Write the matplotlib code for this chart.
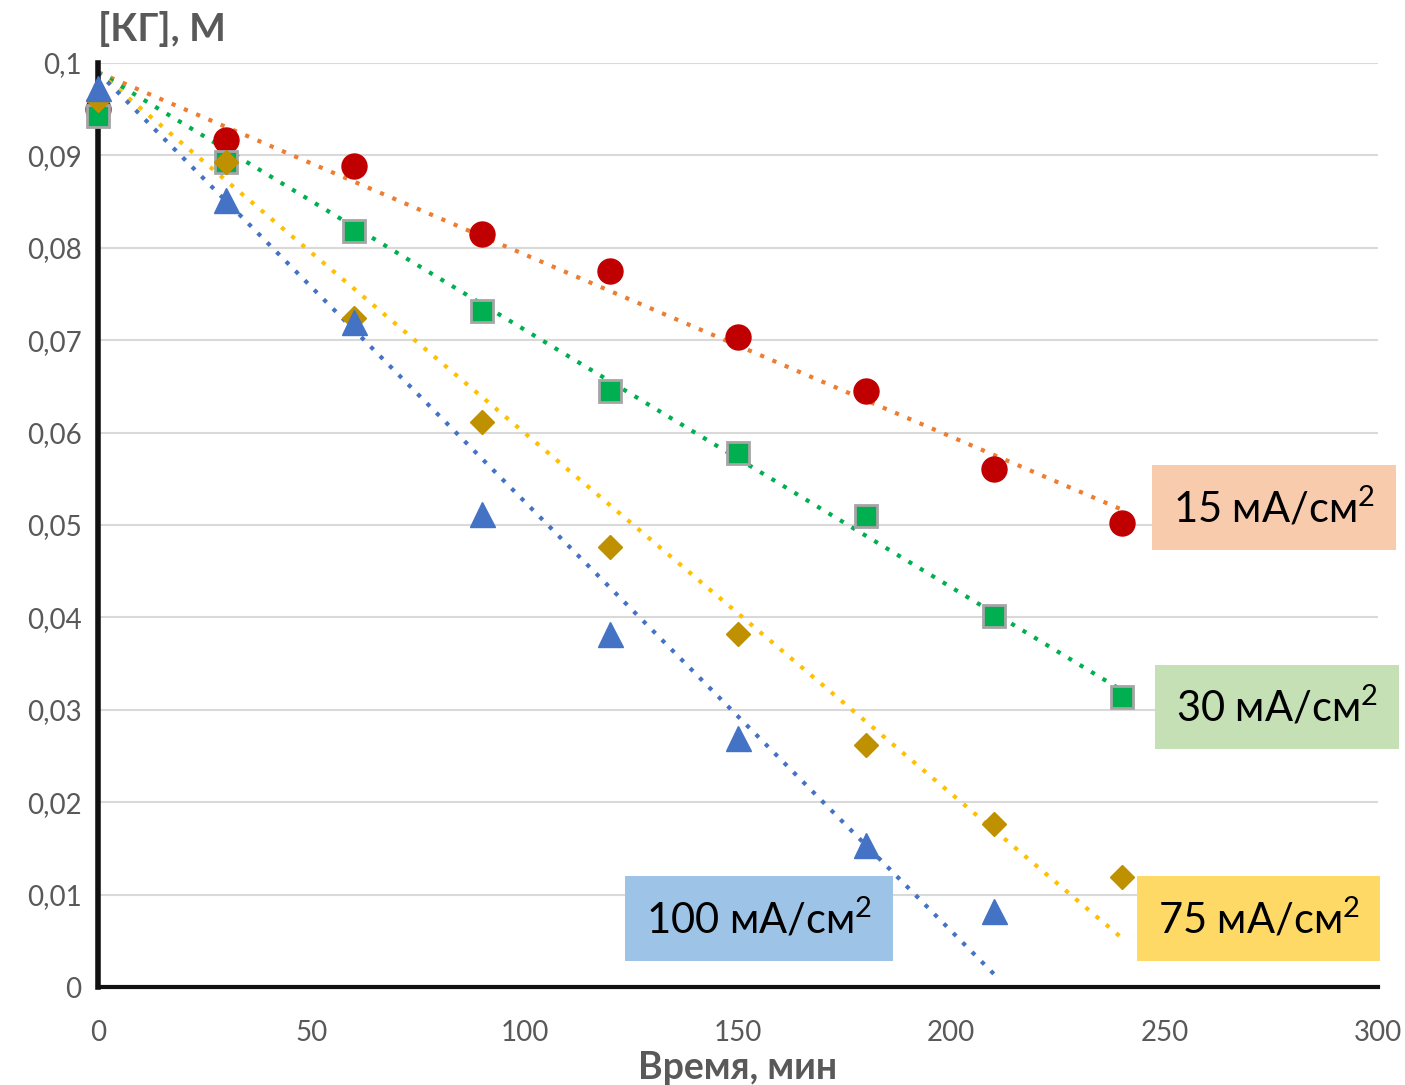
import numpy as np
import matplotlib
matplotlib.use("Agg")
import matplotlib.pyplot as plt

plt.rcParams['font.family'] = ['Lato', 'DejaVu Sans']
plt.rcParams['mathtext.default'] = 'regular'

t = [0, 30, 60, 90, 120, 150, 180, 210, 240]
c15 = [0.0950, 0.0917, 0.0889, 0.0815, 0.0775, 0.0703, 0.0645, 0.0561, 0.0502]
c30 = [0.0943, 0.0893, 0.0818, 0.0732, 0.0645, 0.0578, 0.0510, 0.0402, 0.0314]
c75 = [0.0960, 0.0893, 0.0724, 0.0611, 0.0476, 0.0382, 0.0262, 0.0176, 0.0119]
t100 = [0, 30, 60, 90, 120, 150, 180, 210]
c100 = [0.0973, 0.0852, 0.0720, 0.0512, 0.0382, 0.0269, 0.0154, 0.0082]
labels = ["15 мА/см$^2$", "30 мА/см$^2$", "75 мА/см$^2$", "100 мА/см$^2$"]
intercept = 0.099  # trendline intercept is fixed

series = [
    (t, c15, dict(marker='o', color='#C00000', ms=18, mec='#C00000'), '#ED7D31'),
    (t, c30, dict(marker='s', color='#00B050', ms=16, mec='#A5A5A5', mew=2), '#00B050'),
    (t, c75, dict(marker='D', color='#BF9000', ms=12, mec='#BF9000'), '#FFC000'),
    (t100, c100, dict(marker='^', color='#4472C4', ms=18, mec='#4472C4'), '#4472C4'),
]

fig = plt.figure(figsize=(14.05, 10.85), dpi=100)
ax = fig.add_axes([0.0698, 0.0903, 0.911, 0.8516])

for x, y, mk, lc in series:
    x = np.array(x, float)
    y = np.array(y, float)
    # least squares slope with the intercept held fixed
    k = np.sum(x * (y - intercept)) / np.sum(x * x)
    xs = np.array([0, x[-1]])
    ax.plot(xs, intercept + k * xs, ls=(0, (1, 2.2)), lw=3, color=lc, zorder=2)
for x, y, mk, lc in series:
    ax.plot(x, y, ls='none', zorder=3, clip_on=False, **mk)

ax.set_xlim(0, 300)
ax.set_ylim(0, 0.1)
ax.set_xticks([0, 50, 100, 150, 200, 250, 300])
ax.set_yticks(np.arange(0, 0.101, 0.01))
ax.set_yticklabels(['0'] + [f"{v:.2f}".replace('.', ',') for v in np.arange(0.01, 0.1, 0.01)] + ['0,1'])
ax.tick_params(length=0, labelsize=20, labelcolor='#595959')
ax.tick_params(axis='x', pad=24)
ax.tick_params(axis='y', pad=12)
ax.grid(axis='y', color='#D9D9D9', lw=1.5)
ax.set_axisbelow(True)
for s in ['top', 'right']:
    ax.spines[s].set_visible(False)
ax.spines['left'].set_linewidth(4)
ax.spines['bottom'].set_linewidth(3)
ax.spines['left'].set_color('#111111')
ax.spines['bottom'].set_color('#111111')

ax.set_xlabel("Время, мин", fontsize=27, fontweight='bold', color='#595959', labelpad=3)
fig.text(0.0698, 0.973, "[КГ], М", fontsize=28, fontweight='bold', color='#595959', ha='left', va='center')

boxes = [
    (labels[0], 275.6, 0.0519, '#F8CBAD'),
    (labels[1], 276.3, 0.0303, '#C5E0B4'),
    (labels[2], 272.0, 0.0074, '#FFD966'),
    (labels[3], 154.9, 0.0074, '#9DC3E6'),
]
for txt, bx, by, fc in boxes:
    ax.text(bx, by, txt, fontsize=30, ha='center', va='center', color='black', zorder=5,
            bbox=dict(boxstyle='square,pad=0.5', fc=fc, ec='none'))

fig.savefig("out.png", dpi=100)
